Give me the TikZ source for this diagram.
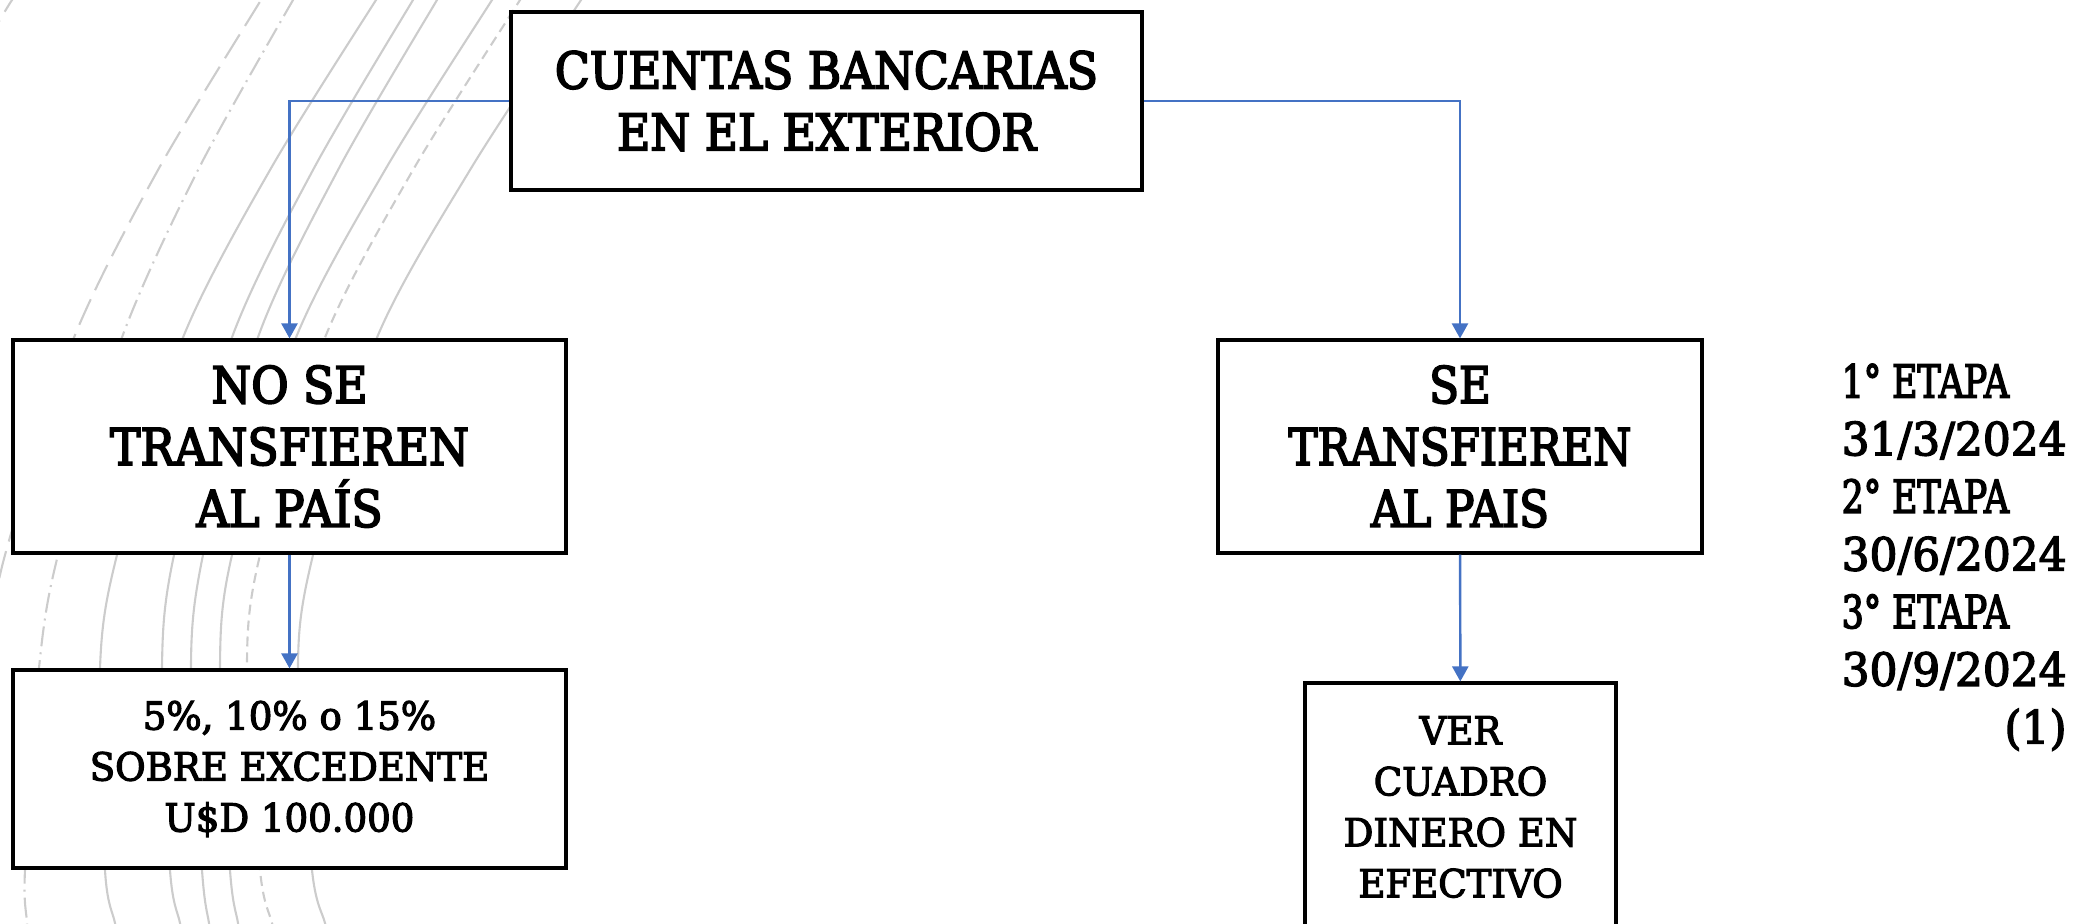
\documentclass[tikz,border=0pt]{standalone}
\usepackage{fontspec}
\setmainfont{DejaVu Serif}[FakeStretch=0.9,FakeBold=3.5]
\newfontfamily\condfont{DejaVu Serif}[FakeStretch=0.86,FakeBold=3.5]
\newfontfamily\smallfont{DejaVu Serif}[FakeStretch=0.96,FakeBold=3]
\newfontfamily\tallfont{DejaVu Serif}[FakeStretch=0.76,FakeBold=3]
\usetikzlibrary{arrows.meta}
\definecolor{linkblue}{HTML}{4472C4}

\begin{document}
\begin{tikzpicture}
	\tikzstyle{box}=[draw=black,line width=0.9pt,fill=white,align=center,inner sep=0pt,font=\fontsize{14.4}{17.6}\selectfont]
	\tikzstyle{smallbox}=[box,font=\smallfont\fontsize{11}{14.5}\selectfont]
	\tikzstyle{link}=[draw=linkblue,line width=0.7pt,-{Triangle[width=1.6mm,length=1.5mm]}]
	\tikzstyle{ring}=[draw=gray!40,line width=0.6pt]
	\tikzstyle{ringdash}=[ring,dash pattern=on 2.8mm off 1mm]
	\tikzstyle{ringfine}=[ring,dash pattern=on 1mm off 0.6mm]
	\tikzstyle{ringdot}=[ring,dash pattern=on 2mm off 0.6mm on 0.2mm off 0.6mm]

	\useasboundingbox (0,0) rectangle (20.80,-9.23);

	\draw[ringdash] plot[smooth] coordinates {(0.22,0.1) (0.12,0) (-0.06,-0.3)};
	\draw[ringdash] plot[smooth] coordinates {(2.80,0.3) (2.61,0) (1.58,-1.70) (0.73,-3.40) (0.05,-5.55) (-0.15,-6.60)};
	\draw[ringdot] plot[smooth] coordinates {(3.12,0.3) (2.93,0) (1.98,-1.70) (1.21,-3.40) (0.58,-5.55) (0.39,-6.68) (0.25,-8.70) (0.27,-9.23) (0.28,-9.50)};
	\draw[ring] plot[smooth] coordinates {(3.97,0.3) (3.76,0) (2.70,-1.70) (1.82,-3.40) (1.17,-5.55) (1.00,-6.68) (1.05,-8.70) (1.15,-9.23) (1.21,-9.50)};
	\draw[ring] plot[smooth] coordinates {(4.33,0.3) (4.13,0) (3.13,-1.70) (2.31,-3.40) (1.74,-5.55) (1.62,-6.68) (1.70,-8.70) (1.80,-9.23) (1.86,-9.50)};
	\draw[ring] plot[smooth] coordinates {(4.57,0.3) (4.37,0) (3.38,-1.70) (2.57,-3.40) (2.03,-5.55) (1.91,-6.68) (2.02,-8.70) (2.09,-9.23) (2.15,-9.50)};
	\draw[ring] plot[smooth] coordinates {(5.12,0.3) (4.92,0) (3.85,-1.70) (2.95,-3.40) (2.32,-5.55) (2.20,-6.68) (2.30,-8.70) (2.38,-9.23) (2.43,-9.50)};
	\draw[ringfine] plot[smooth] coordinates {(5.40,0.3) (5.20,0) (4.13,-1.70) (3.24,-3.40) (2.60,-5.55) (2.47,-6.68) (2.60,-8.70) (2.72,-9.23) (2.79,-9.50)};
	\draw[ring] plot[smooth] coordinates {(6.01,0.3) (5.81,0) (4.70,-1.70) (3.76,-3.40) (3.13,-5.55) (2.98,-6.68) (3.12,-8.70) (3.25,-9.23) (3.32,-9.50)};

	\node[box,minimum width=6.31cm,minimum height=1.78cm] (accounts) at (8.265,-1.01) {CUENTAS BANCARIAS\\EN EL EXTERIOR};
	\node[box,minimum width=5.53cm,minimum height=2.13cm] (notransfer) at (2.895,-4.465) {NO SE\\TRANSFIEREN\\AL PAÍS};
	\node[smallbox,minimum width=5.53cm,minimum height=1.98cm] (surcharge) at (2.895,-7.69) {5\%, 10\% o 15\%\\SOBRE EXCEDENTE\\U\$D 100.000};
	\node[box,font=\condfont\fontsize{14.4}{17.6}\selectfont,minimum width=4.84cm,minimum height=2.13cm] (transfer) at (14.60,-4.465) {SE\\TRANSFIEREN\\AL PAIS};
	\node[smallbox,minimum width=3.11cm,minimum height=2.48cm] (cash) at (14.605,-8.07) {VER\\CUADRO\\DINERO EN\\EFECTIVO};
	\node[anchor=west,inner sep=0pt,font=\smallfont\fontsize{13}{16.4}\selectfont] (stages) at (18.41,-5.59) {\begin{tabular}{@{}l@{}}{\tallfont 1° ETAPA}\\31/3/2024\\{\tallfont 2° ETAPA}\\30/6/2024\\{\tallfont 3° ETAPA}\\30/9/2024\\\multicolumn{1}{@{}r@{}}{(1)}\end{tabular}};

	\draw[link] (accounts.west) -| (notransfer.north);
	\draw[link] (accounts.east) -| (transfer.north);
	\draw[link] (notransfer) -- (surcharge);
	\draw[link] (transfer) -- (cash);
\end{tikzpicture}
\end{document}
